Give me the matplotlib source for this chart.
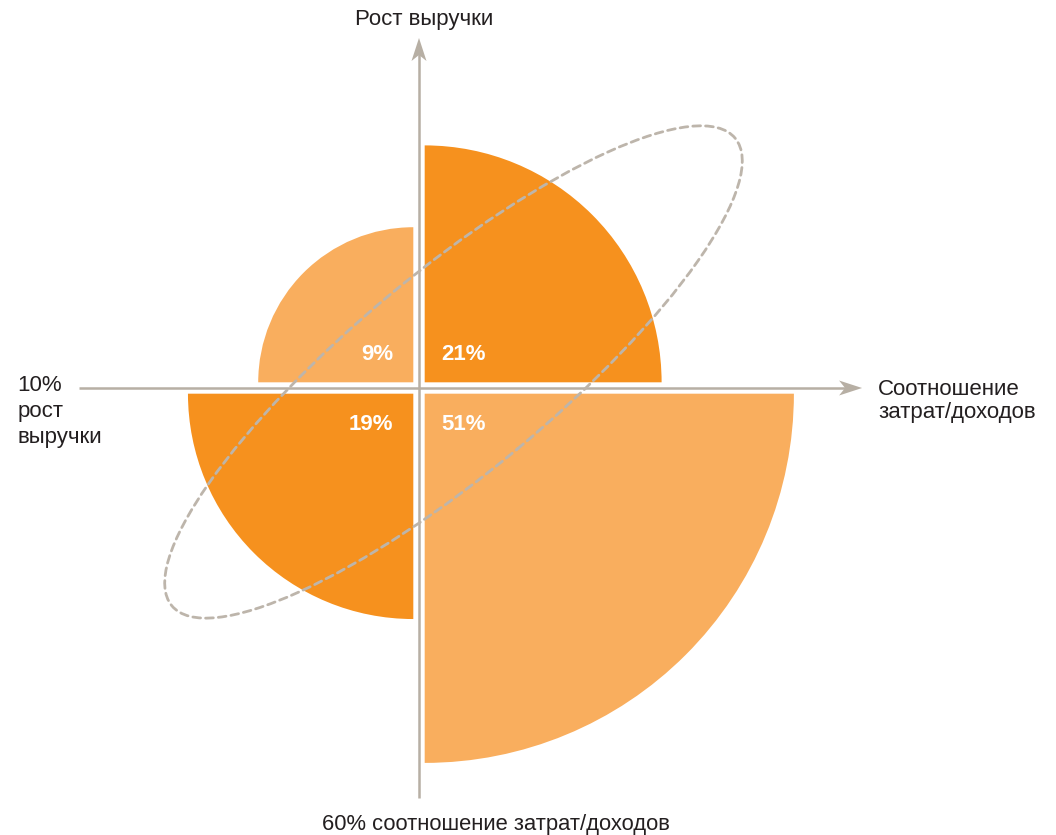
import numpy as np
import matplotlib
matplotlib.use("Agg")
import matplotlib.pyplot as plt
from matplotlib.patches import Wedge, Ellipse, Polygon

plt.rcParams["font.family"] = ["Liberation Sans", "DejaVu Sans"]

# share of respondents per quadrant, area of each wedge is proportional to the share
quadrants = ["top_right", "top_left", "bottom_left", "bottom_right"]
shares = [21, 9, 19, 51]
labels = ["21%", "9%", "19%", "51%"]

DARK = "#F6911E"
LIGHT = "#F9AE5E"
AXIS = "#B7AFA4"
DASH = "#BDB5AB"

scale = 51.7            # px per unit of sqrt(share)
cx, cy = 419, 388       # axis crossing, px
W, H = 1056, 835
gap = 0.11

fig = plt.figure(figsize=(W / 100, H / 100), dpi=100)
ax = fig.add_axes([0, 0, 1, 1])
ax.set_xlim(-cx / scale, (W - cx) / scale)
ax.set_ylim(-(H - cy) / scale, cy / scale)
ax.axis("off")

# (start angle, x sign, y sign, colour) for each quadrant
layout = {
    "top_right": (0, 1, 1, DARK),
    "top_left": (90, -1, 1, LIGHT),
    "bottom_left": (180, -1, -1, DARK),
    "bottom_right": (270, 1, -1, LIGHT),
}

for q, share, lab in zip(quadrants, shares, labels):
    start, sx, sy, color = layout[q]
    r = np.sqrt(share)
    ox, oy = sx * gap, sy * gap
    ax.add_patch(Wedge((ox, oy), r, start, start + 90, facecolor=color,
                       edgecolor="none", zorder=2))
    tx = 0.44 if sx > 0 else -0.5
    ty = 0.65 if sy > 0 else -0.71
    ax.text(tx, ty, lab, color="white", fontsize=16, fontweight="bold",
            ha="left" if sx > 0 else "right", va="center", zorder=4)


def arrow_head(tip, direction):
    # notched arrow head, sizes in px converted to data units
    L, w, n = 23 / scale, 7.5 / scale, 6 / scale
    d = np.array(direction, float)
    p = np.array([-d[1], d[0]])
    t = np.array(tip, float)
    pts = [t, t - L * d + w * p, t - (L - n) * d, t - L * d - w * p]
    ax.add_patch(Polygon(pts, closed=True, facecolor=AXIS, edgecolor="none", zorder=3))


# axes with arrow heads
x_tip, y_tip = 8.57, 6.77
ax.plot([-6.58, x_tip - 0.3], [0, 0], color=AXIS, lw=1.8, zorder=3, solid_capstyle="butt")
arrow_head((x_tip, 0), (1, 0))
ax.plot([0, 0], [-7.93, y_tip - 0.3], color=AXIS, lw=1.8, zorder=3, solid_capstyle="butt")
arrow_head((0, y_tip), (0, 1))

# dashed ellipse across the diagonal quadrants
ax.add_patch(Ellipse((0.667, 0.31), 14.16, 3.87, angle=39.7, fill=False,
                     edgecolor=DASH, lw=2.0, linestyle=(0, (2.8, 1.8)),
                     capstyle="round", zorder=5))

txt = "#231F20"
fs = 16
ax.text(0.1, 7.12, "Рост выручки", fontsize=fs, color=txt, ha="center", va="center")
ax.text(-7.77, 0.25, "10%\nрост\nвыручки", fontsize=fs, color=txt, ha="left", va="top",
        linespacing=1.32)
ax.text(8.88, -0.25, "Соотношение\nзатрат/доходов", fontsize=fs, color=txt, ha="left",
        va="center", linespacing=1.12)
ax.text(1.49, -8.45, "60% соотношение затрат/доходов", fontsize=15.8, color=txt,
        ha="center", va="center")

fig.savefig("out.png", dpi=100)
